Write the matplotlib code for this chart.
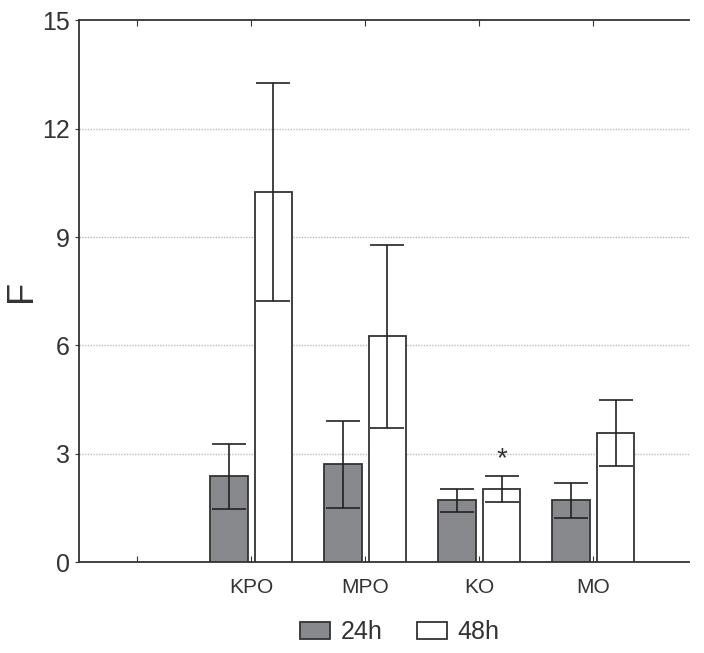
import numpy as np
import matplotlib.pyplot as plt
from matplotlib.patches import Patch

# values
groups = ['', 'KPO', 'MPO', 'KO', 'MO']
mean_24h = [np.nan, 2.38, 2.73, 1.72, 1.72]
low_24h = [np.nan, 1.47, 1.51, 1.38, 1.22]
high_24h = [np.nan, 3.26, 3.91, 2.03, 2.19]
mean_48h = [np.nan, 10.24, 6.26, 2.04, 3.59]
low_48h = [np.nan, 7.22, 3.71, 1.66, 2.65]
high_48h = [np.nan, 13.25, 8.77, 2.40, 4.48]
star_group = 'KO'
star_y = 2.85

plt.rcParams['font.family'] = ['Liberation Sans', 'DejaVu Sans']
dark = '#333333'

x = np.arange(len(groups))
w = 0.33
off = 0.195

fig = plt.figure(figsize=(7.04, 6.53), dpi=100)
ax = fig.add_axes([0.112, 0.139, 0.867, 0.830])

m24 = np.array(mean_24h)
m48 = np.array(mean_48h)
err24 = [m24 - np.array(low_24h), np.array(high_24h) - m24]
err48 = [m48 - np.array(low_48h), np.array(high_48h) - m48]

ax.bar(x - off, m24, w, color='#88898d', edgecolor=dark, linewidth=1.3, zorder=3)
ax.bar(x + off, m48, w, color='white', edgecolor=dark, linewidth=1.3, zorder=3)
ax.errorbar(x - off, m24, yerr=err24, fmt='none', ecolor='#222222',
            elinewidth=1.2, capsize=12, capthick=1.2, zorder=4)
ax.errorbar(x + off, m48, yerr=err48, fmt='none', ecolor='#222222',
            elinewidth=1.2, capsize=12, capthick=1.2, zorder=4)

i = groups.index(star_group)
ax.text(x[i] + off, star_y, '*', ha='center', va='center', fontsize=20, color=dark)

ax.set_xlim(-0.51, 4.84)
ax.set_ylim(0, 15)
ax.set_yticks([0, 3, 6, 9, 12, 15])
ax.set_xticks(x)
ax.set_xticklabels(groups, fontsize=15, color=dark)
ax.tick_params(axis='y', labelsize=18, labelcolor=dark, length=3, color=dark)
ax.tick_params(axis='x', direction='in', length=4, color=dark, top=True, pad=11)
for yv in [3, 6, 9, 12]:
    ax.axhline(yv, color='#bbbbbb', linestyle=(0, (1, 1)), linewidth=1.0, zorder=1)

ax.spines['right'].set_visible(False)
for s in ['left', 'bottom', 'top']:
    ax.spines[s].set_color(dark)
    ax.spines[s].set_linewidth(1.3)

ax.set_ylabel('F', fontsize=26, color=dark)
ax.yaxis.set_label_coords(-0.066, 0.5)

handles = [Patch(facecolor='#88898d', edgecolor=dark, linewidth=1.3, label='24h'),
           Patch(facecolor='white', edgecolor=dark, linewidth=1.3, label='48h')]
fig.legend(handles=handles, loc='center', bbox_to_anchor=(0.568, 0.032), ncol=2,
           frameon=False, fontsize=18, handlelength=1.2, handleheight=0.7,
           columnspacing=1.4, handletextpad=0.4, labelcolor=dark)

fig.savefig('out.png', dpi=100)
